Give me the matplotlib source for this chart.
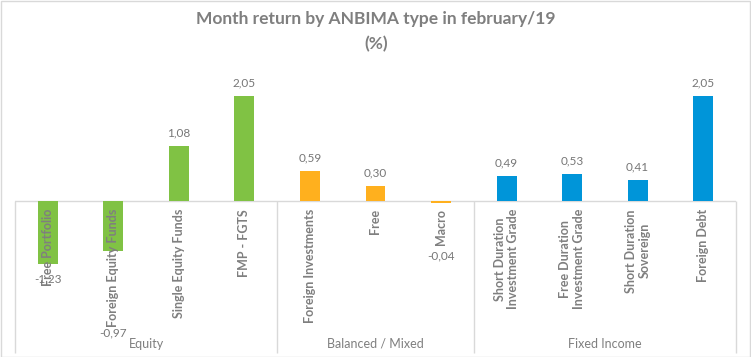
import matplotlib
matplotlib.use('Agg')
import matplotlib.pyplot as plt
from matplotlib.patches import Rectangle

plt.rcParams['font.family'] = ['Lato', 'DejaVu Sans']

# data
categories = ['Free Portfolio', 'Foreign Equity Funds', 'Single Equity Funds', 'FMP - FGTS',
              'Foreign Investments', 'Free', 'Macro',
              'Short Duration\nInvestment Grade', 'Free Duration\nInvestment Grade',
              'Short Duration\nSovereign', 'Foreign Debt']
values = [-1.23, -0.97, 1.08, 2.05, 0.59, 0.30, -0.04, 0.49, 0.53, 0.41, 2.05]
groups = ['Equity', 'Balanced / Mixed', 'Fixed Income']
group_sizes = [4, 3, 4]

group_colors = ['#80c244', '#ffb01e', '#0095d9']
label_nudge = [-15, -82, 13, 13, 13, 13, -53, 13, 13, 13, 13]  # pixels, data labels moved by hand

gray = '#7f7f7f'
W, H = 751, 357
fig = plt.figure(figsize=(W / 100, H / 100), dpi=100)
ax = fig.add_axes([15 / W, (H - 353) / H, (736 - 15) / W, (353 - 70) / H])

colors = []
for c, n in zip(group_colors, group_sizes):
    colors += [c] * n

x = list(range(len(categories)))
ax.bar(x, values, width=0.305, color=colors, zorder=2)
ax.set_xlim(-0.5, len(categories) - 0.5)
ax.set_ylim(-2.97, 2.56)
ax.axis('off')

ax.axhline(0, color='#d9d9d9', lw=1, zorder=1)

# group separators
bounds = [-0.5]
for n in group_sizes:
    bounds.append(bounds[-1] + n)
ax.vlines(bounds, -2.97, 0, color='#d9d9d9', lw=1, clip_on=False)

for i, (cat, v) in enumerate(zip(categories, values)):
    ax.annotate(cat, (i, 0), xytext=(0, -8), textcoords='offset pixels',
                rotation=90, ha='center', va='top', multialignment='center',
                fontsize=9, fontweight='bold', color=gray, linespacing=1.15)
    ax.annotate(f'{v:.2f}'.replace('.', ','), (i, v), xytext=(0, label_nudge[i]),
                textcoords='offset pixels', ha='center', va='center',
                fontsize=8.5, color='#767676')

for j, g in enumerate(groups):
    mid = (bounds[j] + bounds[j + 1]) / 2
    ax.annotate(g, (mid, 0), xycoords=('data', 'figure pixels'), xytext=(0, H - 344),
                textcoords=('offset pixels'), ha='center', va='center',
                fontsize=9, color=gray)

fig.text(376 / W, 1 - 19 / H, 'Month return by ANBIMA type in february/19',
         ha='center', va='center', fontsize=12.5, fontweight='bold', color=gray)
fig.text(376 / W, 1 - 44 / H, '(%)', ha='center', va='center',
         fontsize=12.5, fontweight='bold', color=gray)

fig.patches.append(Rectangle((0.5 / W, 0.5 / H), (W - 1.5) / W, (H - 1.5) / H,
                             transform=fig.transFigure, fill=False,
                             edgecolor='#d9d9d9', lw=1))

fig.savefig('out.png', dpi=100, facecolor='white')
